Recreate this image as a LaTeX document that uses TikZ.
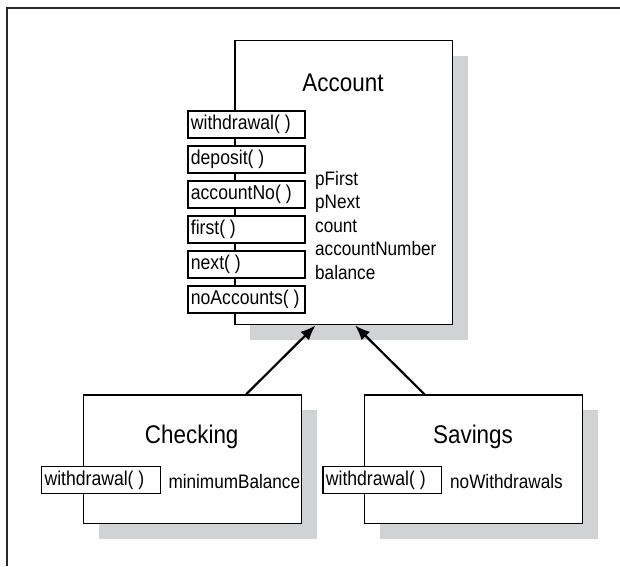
\documentclass[tikz,border=0pt]{standalone}
\usepackage{fontspec}
\setmainfont{Liberation Sans}[FakeStretch=0.88]
\usetikzlibrary{arrows.meta,calc}
\definecolor{shadowgray}{RGB}{209,210,212}
\definecolor{framegray}{RGB}{40,40,40}
\newcommand{\mtxt}[2][111pt]{\makebox[#1][l]{#2}}
\begin{document}
\begin{tikzpicture}[x=1pt,y=-1pt,
  frameline/.style={line width=2pt, draw=framegray},
  shadowbox/.style={fill=shadowgray, draw=none},
  cls/.style={draw, line width=1.4pt, fill=white, inner sep=0pt, anchor=north west},
  clstitle/.style={font=\fontsize{25.5}{30}\selectfont, inner sep=0pt, anchor=base},
  meth/.style={draw, line width=1.2pt, fill=white, anchor=west, minimum height=27pt,
    inner xsep=3pt, inner ysep=0pt,
    font=\fontsize{20}{23}\selectfont},
  attr/.style={anchor=base west, inner sep=0pt, font=\fontsize{19.5}{23}\selectfont},
  inherit/.style={line width=2.2pt, -{Latex[length=15pt,width=12pt]}}
]
\useasboundingbox (0,0) rectangle (620,566);
% outer frame
\draw[frameline] (7,566) -- (7,8) -- (620,8);
% shadows
\fill[shadowbox] (250.3,56) rectangle (467.7,340);
\fill[shadowbox] (98.7,410.3) rectangle (316.7,538.7);
\fill[shadowbox] (380,410.3) rectangle (597.7,538.7);
% class boxes
\node[cls, minimum width=217.4pt, minimum height=284pt] (acc) at (234.3,40) {};
\node[cls, minimum width=218pt, minimum height=128.4pt] (chk) at (82.7,394.3) {};
\node[cls, minimum width=217.7pt, minimum height=128.4pt] (sav) at (364,394.3) {};
% titles
\node[clstitle] (accT) at (343,91) {Account};
\node[clstitle] (chkT) at (191.7,443) {Checking};
\node[clstitle] (savT) at (473,443) {Savings};
% Account methods
\node[meth] (m1) at (187.3,124.5) {\mtxt{withdrawal( )}};
\node[meth] (m2) at (187.3,159.5) {\mtxt{deposit( )}};
\node[meth] (m3) at (187.3,194.5) {\mtxt{accountNo( )}};
\node[meth] (m4) at (187.3,229.5) {\mtxt{first( )}};
\node[meth] (m5) at (187.3,264.5) {\mtxt{next( )}};
\node[meth] (m6) at (187.3,299.5) {\mtxt{noAccounts( )}};
% Account attributes
\node[attr] (t1) at (315,185) {pFirst};
\node[attr] (t2) at (315,208.5) {pNext};
\node[attr] (t3) at (315,232) {count};
\node[attr] (t4) at (315,255.5) {accountNumber};
\node[attr] (t5) at (315,279) {balance};
% Checking
\node[meth] (cm) at (41,480) {\mtxt[113pt]{withdrawal( )}};
\node[attr] (ca) at (168.3,488.3) {minimumBalance};
% Savings
\node[meth] (sm) at (322.3,480) {\mtxt[112.7pt]{withdrawal( )}};
\node[attr] (sa) at (450,488.3) {noWithdrawals};
% inheritance arrows
\coordinate (c1) at ($(chk.north west)!0.745!(chk.north east)$);
\coordinate (a1) at ($(acc.south west)!0.371!(acc.south east)$);
\coordinate (s1) at ($(sav.north west)!0.276!(sav.north east)$);
\coordinate (a2) at ($(acc.south west)!0.552!(acc.south east)$);
\draw[inherit] (c1) -- (a1);
\draw[inherit] (s1) -- (a2);
\end{tikzpicture}
\end{document}
